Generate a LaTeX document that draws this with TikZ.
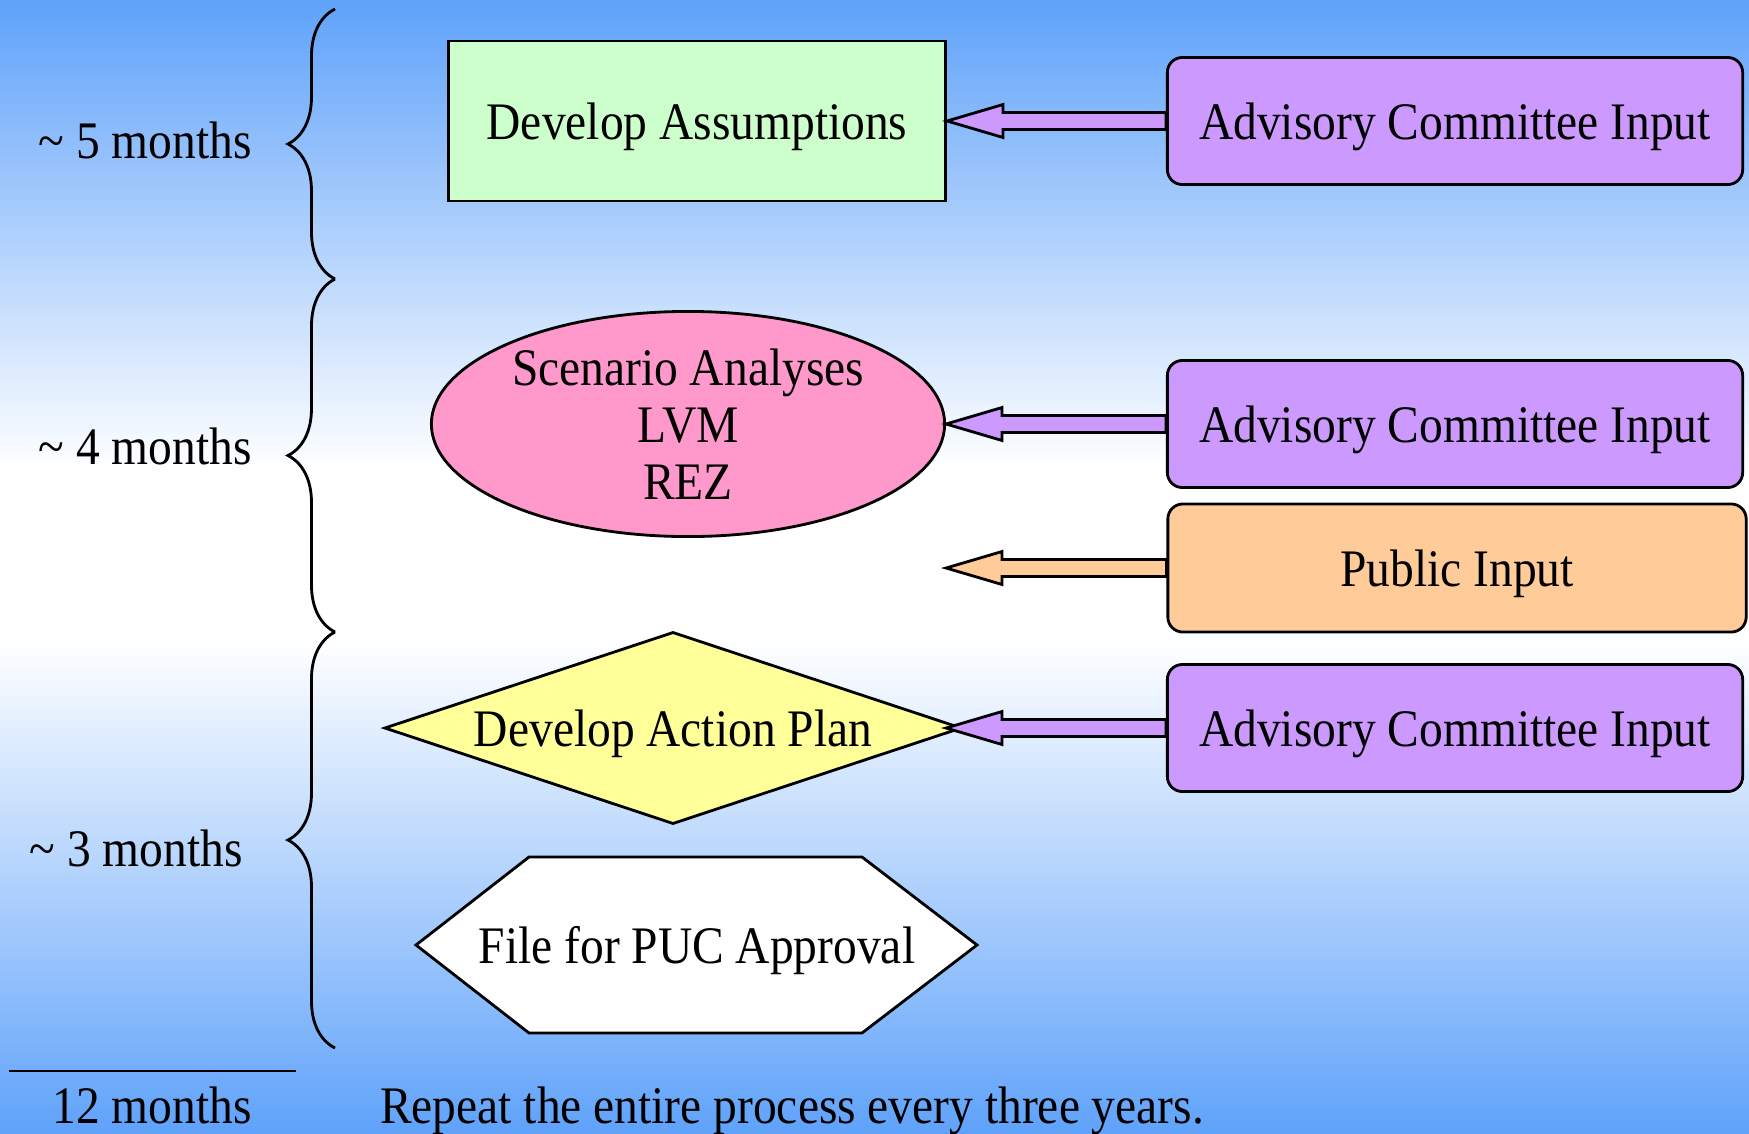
\documentclass[tikz,border=0pt]{standalone}
\usepackage{fontspec}
\setmainfont{Liberation Serif}[FakeStretch=0.9]
\usepackage{tikz}
\usetikzlibrary{shapes, arrows, positioning, calc, decorations.pathreplacing}
\definecolor{skyblue}{RGB}{95,162,250}
\definecolor{assumec}{HTML}{CCFFCC}
\definecolor{inputc}{HTML}{CC99FF}
\definecolor{scenc}{HTML}{FF99CC}
\definecolor{pubc}{HTML}{FFCC99}
\definecolor{planc}{HTML}{FFFF99}
\tikzstyle{box} = [draw, line width=0.8pt, inner sep=0pt]
\tikzstyle{input} = [box, fill=inputc, text depth=0pt, rounded corners=0.15cm, minimum width=5.75cm, minimum height=1.27cm]
\tikzstyle{brace} = [draw, line width=0.8pt, decorate, decoration={brace, amplitude=0.47cm}]
\tikzstyle{barrow} = [draw, line width=0.8pt, line join=miter, to path={
    ($(\tikztostart)+(0,-8.5)$) -- ($(\tikztotarget)+(56,-8.5)$) -- ($(\tikztotarget)+(56,-16.5)$)
    -- (\tikztotarget) -- ($(\tikztotarget)+(56,16.5)$) -- ($(\tikztotarget)+(56,8.5)$)
    -- ($(\tikztostart)+(0,8.5)$) -- cycle}]

\begin{document}
\begin{tikzpicture}[x=0.01cm, y=-0.01cm, font=\fontsize{15}{16.2}\selectfont]
	\useasboundingbox (0,0) rectangle (1749,1133);
	\shade [top color=skyblue, bottom color=white] (0,0) rectangle (1749,470);
	\fill [white] (0,470) rectangle (1749,640);
	\shade [top color=white, bottom color=skyblue] (0,640) rectangle (1749,1133);

	\node [box, fill=assumec, text depth=0pt, minimum width=4.97cm, minimum height=1.60cm] (assume) at (697,121) {Develop Assumptions};
	\node [input] (aci1) at (1455,121) {Advisory Committee Input};
	\node [box, ellipse, fill=scenc, align=center, minimum width=5.13cm, minimum height=2.25cm] (scen) at (688,424) {Scenario Analyses\\LVM\\REZ};
	\node [input] (aci2) at (1455,424) {Advisory Committee Input};
	\node [input, fill=pubc, minimum width=5.78cm, minimum height=1.28cm] (pub) at (1457,568) {Public Input};
	\node [box, diamond, aspect=3, fill=planc, text depth=0pt, minimum width=5.77cm, minimum height=1.92cm] (plan) at (673,728) {Develop Action Plan};
	\node [input] (aci3) at (1455,728) {Advisory Committee Input};
	% hexagon for the filing step
	\filldraw [line width=0.8pt, fill=white] (416,945) -- (529,857) -- (862,857) -- (977,945) -- (862,1033) -- (529,1033) -- cycle;
	\node [text depth=0pt] (puc) at (697,945) {File for PUC Approval};

	\coordinate (pubtip) at (scen.east |- pub.west);
	\coordinate (plantip) at (scen.east |- plan.east);

	\path [barrow, fill=inputc] (aci1.west) to (assume.east);
	\path [barrow, fill=inputc] (aci2.west) to (scen.east);
	\path [barrow, fill=pubc] (pub.west) to (pubtip);
	\path [barrow, fill=inputc] (aci3.west) to (plantip);

	% time spans
	\path [brace] (335,279) -- (335,9);
	\path [brace] (335,632) -- (335,279);
	\path [brace] (335,1048) -- (335,632);
	\node [anchor=base] (m5) at (145,158) {\textasciitilde{} 5 months};
	\node [anchor=base] (m4) at (145,464) {\textasciitilde{} 4 months};
	\node [anchor=base] (m3) at (136,866) {\textasciitilde{} 3 months};

	\draw [line width=0.8pt] (9,1071) -- (296,1071);
	\node [anchor=base] (m12) at (152,1123) {12 months};
	\node [anchor=base] (repeat) at (792,1123) {Repeat the entire process every three years.};
\end{tikzpicture}
\end{document}
